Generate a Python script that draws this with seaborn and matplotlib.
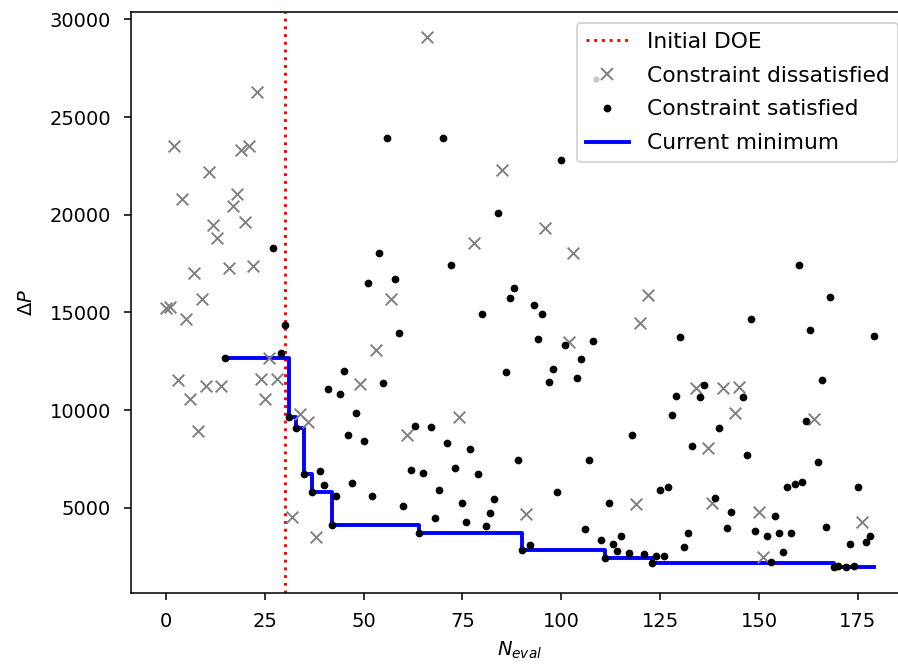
import numpy as np
import pandas as pd
import matplotlib
matplotlib.use("Agg")
import matplotlib.pyplot as plt
import seaborn as sns
from matplotlib.lines import Line2D
from matplotlib.path import Path
from matplotlib.legend_handler import HandlerTuple

# evaluations that violate the constraint (grey crosses)
bad_n = [0, 1, 2, 3, 4, 5, 6, 7, 8, 9, 10, 11, 12, 13, 14, 16, 17, 18, 19, 20,
         21, 22, 23, 24, 25, 26, 28, 32, 34, 36, 38, 49, 53, 57, 61, 66, 74, 78,
         85, 91, 96, 102, 103, 119, 120, 122, 134, 137, 138, 141, 144, 145, 150,
         151, 164, 176]
bad_dp = [15200, 15250, 23500, 11550, 20800, 14650, 10550, 17000, 8950, 15700,
          11250, 22200, 19450, 18800, 11250, 17250, 20450, 21050, 23300, 19650,
          23500, 17350, 26300, 11600, 10550, 12650, 11600, 4540, 9800, 9370, 3480,
          11310, 13070, 15700, 8720, 29080, 9630, 18530, 22300, 4680, 19330,
          13500, 18020, 5170, 14440, 15890, 11110, 8070, 5250, 11110, 9830, 11190,
          4760, 2490, 9540, 4280]

# evaluations that satisfy the constraint (black dots)
ok_n = [15, 27, 29, 30, 31, 33, 35, 37, 39, 40, 41, 42, 43, 44, 45, 46, 47, 48,
        50, 51, 52, 54, 55, 56, 58, 59, 60, 62, 63, 64, 65, 67, 68, 69, 70, 71,
        72, 73, 75, 76, 77, 79, 80, 81, 82, 83, 84, 86, 87, 88, 89, 90, 92, 93,
        94, 95, 97, 98, 99, 100, 101, 104, 105, 106, 107, 108, 110, 111, 112,
        113, 114, 115, 117, 118, 121, 123, 124, 125, 126, 127, 128, 129, 130,
        131, 132, 133, 135, 136, 139, 140, 142, 143, 146, 147, 148, 149, 152,
        153, 154, 155, 156, 157, 158, 159, 160, 161, 162, 163, 165, 166, 167,
        168, 169, 170, 172, 173, 174, 175, 177, 178, 179]
ok_dp = [12650, 18310, 12900, 14350, 9650, 9090, 6710, 5820, 6880, 6160, 11060,
         4110, 5600, 10800, 12010, 8720, 6250, 9830, 8410, 16520, 5600, 18050,
         11400, 23940, 16690, 13960, 5080, 6930, 9200, 3720, 6760, 9110, 4450,
         5900, 23940, 8290, 17420, 7050, 5250, 4280, 7990, 6710, 14920, 4060,
         4710, 5430, 20080, 11960, 15750, 16230, 7440, 2830, 3090, 15380, 13620,
         14920, 11450, 12100, 5820, 22800, 13330, 11620, 12600, 3890, 7440, 13550,
         3340, 2410, 5250, 3140, 2800, 3550, 2690, 8720, 2630, 2150, 2520, 5900,
         2520, 6040, 9740, 10720, 13720, 3000, 3720, 8160, 10650, 11280, 5480,
         9060, 3940, 4760, 10650, 7700, 14660, 3800, 3550, 2200, 4590, 3720, 2740,
         6040, 3720, 6210, 17420, 6300, 9450, 14100, 7320, 11540, 4020, 15800,
         1960, 1990, 1980, 3140, 2000, 6040, 3230, 3550, 13790]

n_doe = 30

bad = pd.DataFrame({"N": bad_n, "dP": bad_dp})
ok = pd.DataFrame({"N": ok_n, "dP": ok_dp}).sort_values("N")
ok["best"] = ok["dP"].cummin()

fig = plt.figure(figsize=(898 / 140, 664 / 140), dpi=140)
ax = fig.add_axes([130.6 / 898, 71 / 664, (909 - 130.6) / 898, 581 / 664])

ax.axvline(n_doe, color="red", linestyle=":", linewidth=1.5, zorder=1)
sns.lineplot(data=ok, x="N", y="best", ax=ax, color="blue", linewidth=2,
             drawstyle="steps-post", zorder=2)
sns.scatterplot(data=bad, x="N", y="dP", ax=ax, marker="x", color="gray",
                s=36, linewidth=1.0, zorder=3)
sns.scatterplot(data=ok, x="N", y="dP", ax=ax, marker="o", color="black",
                edgecolor="black", s=10, linewidth=0.8, zorder=4)

ax.set_xlim(-8.95, 187.95)
ax.set_ylim(630, 30380)
ax.tick_params(axis="y", pad=6.5)
ax.tick_params(axis="x", pad=6.5)
ax.set_xlabel("$N_{eval}$")
ax.set_ylabel(r"$\Delta P$", labelpad=7)

# legend: grey cross with a small pale dot at its lower left
dot_path = Path.circle(center=(-5.7, -2.6), radius=1.6)
dot_size = 2 * np.abs(dot_path.vertices).max()
h_doe = Line2D([], [], color="red", linestyle=":", linewidth=1.5)
h_dot = Line2D([], [], linestyle="none", marker=dot_path, markersize=dot_size,
               markerfacecolor="#c8c8c8", markeredgewidth=0)
h_x = Line2D([], [], linestyle="none", marker="x", color="gray", markersize=6)
h_ok = Line2D([], [], linestyle="none", marker=".", color="black", markersize=6)
h_min = Line2D([], [], color="blue", linewidth=2)
ax.legend([h_doe, (h_dot, h_x), h_ok, h_min],
          ["Initial DOE", "Constraint dissatisfied", "Constraint satisfied",
           "Current minimum"],
          loc="upper right", fontsize=11.2, labelspacing=0.64,
          handler_map={tuple: HandlerTuple(ndivide=1, pad=0)})

fig.savefig("out.png", dpi=140)
